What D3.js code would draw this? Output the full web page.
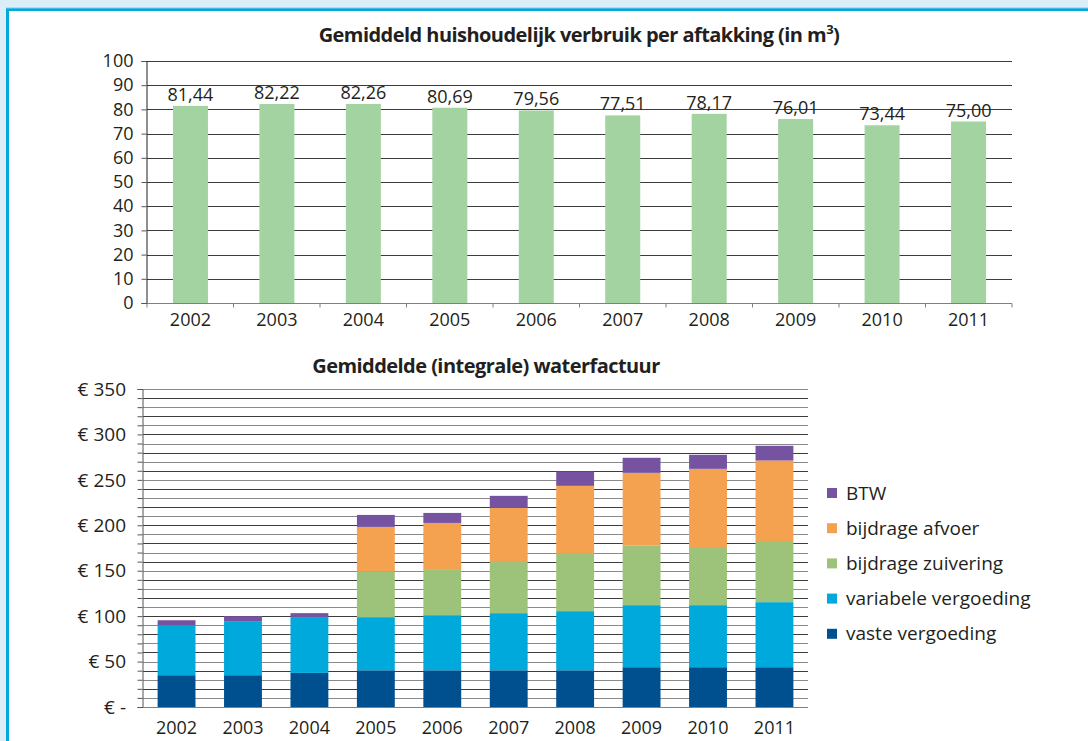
<!DOCTYPE html>
<html>
<head>
<meta charset="utf-8">
<script src="https://cdn.jsdelivr.net/npm/d3@7"></script>
<style>
  body { margin: 0; background: #dbeef8; }
  svg { display: block; }
  text { font-family: "Open Sans", sans-serif; fill: #231f20; }
</style>
</head>
<body>
<svg id="chart" width="1088" height="741"></svg>
<script>
const years = ["2002", "2003", "2004", "2005", "2006", "2007", "2008", "2009", "2010", "2011"];

// verbruik per aftakking (m3)
const verbruik = [81.44, 82.22, 82.26, 80.69, 79.56, 77.51, 78.17, 76.01, 73.44, 75.0];

// waterfactuur, componenten (euro)
const vasteVergoeding = [35, 35, 37.5, 40.4, 40.4, 40.4, 40.4, 43.8, 43.8, 43.8];
const variabeleVergoeding = [55, 59.5, 60.7, 58.5, 60.7, 62.9, 65.1, 68.3, 68.3, 71.6];
const bijdrageZuivering = [0, 0, 0, 50, 50.7, 57.4, 64, 65.5, 64, 67.3];
const bijdrageAfvoer = [0, 0, 0, 49.3, 50.8, 58.4, 73.9, 80.1, 86, 88.6];
const btw = [5.5, 5.5, 5.1, 13.2, 11, 13.3, 15.8, 16.6, 15.5, 16.2];

const seriesNames = ["vaste vergoeding", "variabele vergoeding", "bijdrage zuivering", "bijdrage afvoer", "BTW"];
const seriesColors = ["#00508f", "#00a9dc", "#9dc37a", "#f4a24f", "#7653a0"];
const euroTicks = [0, 50, 100, 150, 200, 250, 300, 350];

const svg = d3.select("#chart");

// kader
svg.append("rect").attr("x", 7.5).attr("y", 9.5).attr("width", 1100).attr("height", 760)
  .attr("fill", "#fff").attr("stroke", "#00a9dc").attr("stroke-width", 3);
svg.append("line").attr("x1", 6).attr("x2", 1088).attr("y1", 8).attr("y2", 8)
  .attr("stroke", "#7fd0ee").attr("stroke-width", 1);

// ---------- bovenste grafiek ----------
const m1 = { left: 147, right: 1012, top: 61, bottom: 303 };

const x1 = d3.scaleBand().domain(years).range([m1.left, m1.right]).paddingInner(0.595).paddingOuter(0.3);
const y1 = d3.scaleLinear().domain([0, 100]).range([m1.bottom, m1.top]);

const title1 = svg.append("text").attr("x", 579).attr("y", 42).attr("text-anchor", "middle")
  .style("font-weight", 700).style("font-size", "20px").style("letter-spacing", "-0.55px");
title1.append("tspan").text("Gemiddeld huishoudelijk verbruik per aftakking (in m");
title1.append("tspan").attr("dy", -8).style("font-size", "13px").text("3");
title1.append("tspan").attr("dy", 8).text(")");

// rasterlijnen
svg.append("g").selectAll("line").data(d3.range(10, 101, 10)).join("line")
  .attr("x1", m1.left).attr("x2", m1.right)
  .attr("y1", (d) => Math.round(y1(d)) + 0.5).attr("y2", (d) => Math.round(y1(d)) + 0.5)
  .attr("stroke", "#3c3c3c").attr("stroke-width", 1);

const yAxis1 = svg.append("g").attr("transform", `translate(${m1.left - 0.5},0)`)
  .call(d3.axisLeft(y1).tickValues(d3.range(0, 101, 10)).tickSize(5).tickPadding(8));
yAxis1.select(".domain").attr("stroke", "#231f20");
yAxis1.selectAll(".tick line").attr("stroke", "#555");
yAxis1.selectAll("text").style("font-size", "18px").style("font-family", "Open Sans").attr("fill", "#231f20");

svg.append("g").selectAll("rect").data(verbruik).join("rect")
  .attr("x", (d, i) => x1(years[i]))
  .attr("y", (d) => y1(d))
  .attr("width", x1.bandwidth())
  .attr("height", (d) => y1(0) - y1(d))
  .attr("fill", "#a4d3a2");

svg.append("g").selectAll("text").data(verbruik).join("text")
  .attr("x", (d, i) => x1(years[i]) + x1.bandwidth() / 2)
  .attr("y", (d) => y1(d) - 5)
  .attr("text-anchor", "middle").style("font-size", "18px")
  .text((d) => d.toFixed(2).replace(".", ","));

// x-as met streepjes tussen de categorieën
const xAxisTop = svg.append("g").attr("transform", `translate(0,${m1.bottom + 0.5})`);
xAxisTop.append("line").attr("x1", m1.left).attr("x2", m1.right).attr("stroke", "#808080");
xAxisTop.selectAll("line.tk").data(d3.range(0, 11)).join("line").attr("class", "tk")
  .attr("x1", (i) => m1.left + (i * (m1.right - m1.left)) / 10)
  .attr("x2", (i) => m1.left + (i * (m1.right - m1.left)) / 10)
  .attr("y1", 0).attr("y2", 4).attr("stroke", "#808080");
xAxisTop.selectAll("text").data(years).join("text")
  .attr("x", (d) => x1(d) + x1.bandwidth() / 2).attr("y", 22)
  .attr("text-anchor", "middle").style("font-size", "18px").text((d) => d);

// ---------- onderste grafiek ----------
const m2 = { left: 143, right: 808, top: 389, bottom: 707 };

const x2 = d3.scaleBand().domain(years).range([m2.left, m2.right]).paddingInner(0.43).paddingOuter(0.22);
const y2 = d3.scaleLinear().domain([0, 350]).range([m2.bottom, m2.top]);

svg.append("text").attr("x", 486).attr("y", 373).attr("text-anchor", "middle")
  .style("font-weight", 700).style("font-size", "20px").style("letter-spacing", "-0.55px")
  .text("Gemiddelde (integrale) waterfactuur");

svg.append("g").selectAll("line").data(d3.range(10, 351, 10)).join("line")
  .attr("x1", m2.left).attr("x2", m2.right)
  .attr("y1", (d) => Math.round(y2(d)) + 0.5).attr("y2", (d) => Math.round(y2(d)) + 0.5)
  .attr("stroke", (d) => (d % 20 === 0 ? "#3c3c3c" : "#8a8a8a")).attr("stroke-width", 1);

const yAxis2 = svg.append("g").attr("transform", `translate(${m2.left - 0.5},0)`)
  .call(d3.axisLeft(y2).tickValues(d3.range(0, 351, 10)).tickSize(5).tickFormat(""));
yAxis2.select(".domain").attr("stroke", "#555");
yAxis2.selectAll(".tick line").attr("stroke", "#555");

svg.append("g").selectAll("text").data(euroTicks).join("text")
  .attr("x", m2.left - 17).attr("y", (d) => y2(d)).attr("dy", "0.35em")
  .attr("text-anchor", "end").style("font-size", "19px")
  .text((d) => (d === 0 ? "€ -" : "€ " + d));

const rows = years.map((y, i) => ({
  year: y,
  "vaste vergoeding": vasteVergoeding[i],
  "variabele vergoeding": variabeleVergoeding[i],
  "bijdrage zuivering": bijdrageZuivering[i],
  "bijdrage afvoer": bijdrageAfvoer[i],
  BTW: btw[i],
}));
const stacked = d3.stack().keys(seriesNames)(rows);

svg.append("g").selectAll("g").data(stacked).join("g")
  .attr("fill", (d, i) => seriesColors[i])
  .selectAll("rect").data((d) => d).join("rect")
  .attr("x", (d) => x2(d.data.year))
  .attr("y", (d) => y2(d[1]))
  .attr("width", x2.bandwidth())
  .attr("height", (d) => y2(d[0]) - y2(d[1]));

svg.append("line").attr("x1", m2.left).attr("x2", m2.right)
  .attr("y1", m2.bottom + 0.5).attr("y2", m2.bottom + 0.5).attr("stroke", "#808080");

svg.append("g").selectAll("text").data(years).join("text")
  .attr("x", (d) => x2(d) + x2.bandwidth() / 2).attr("y", m2.bottom + 27)
  .attr("text-anchor", "middle").style("font-size", "18px").text((d) => d);

// legenda
const legendOrder = seriesNames.slice().reverse();
const legend = svg.append("g").selectAll("g").data(legendOrder).join("g")
  .attr("transform", (d, i) => `translate(827,${493 + i * 35.2})`);
legend.append("rect").attr("x", 0).attr("y", -5).attr("width", 10).attr("height", 10)
  .attr("fill", (d) => seriesColors[seriesNames.indexOf(d)]);
legend.append("text").attr("x", 19).attr("dy", "0.35em").style("font-size", "19px").text((d) => d);
</script>
</body>
</html>
